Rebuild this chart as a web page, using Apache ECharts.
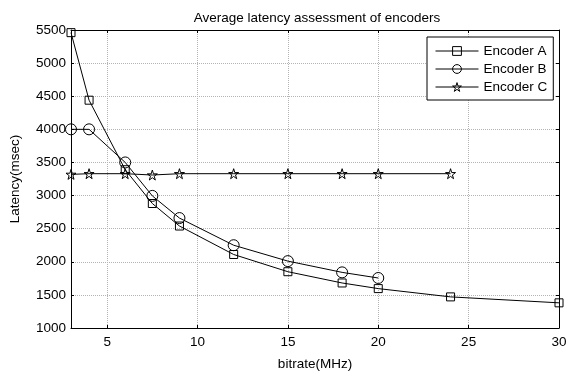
<!DOCTYPE html>
<html>
<head>
<meta charset="utf-8">
<script src="https://cdn.jsdelivr.net/npm/echarts@6/dist/echarts.min.js"></script>
<style>
  html, body { margin: 0; padding: 0; background: #fff; }
  #chart { width: 572px; height: 376px; }
</style>
</head>
<body>
<div id="chart"></div>
<script>
// bitrate (MHz) and latency (msec)
var bitrateA = [3, 4, 6, 7.5, 9, 12, 15, 18, 20, 24, 30];
var latencyA = [5460, 4440, 3390, 2880, 2540, 2110, 1850, 1680, 1595, 1470, 1380];
var bitrateB = [3, 4, 6, 7.5, 9, 12, 15, 18, 20];
var latencyB = [4000, 4000, 3500, 2995, 2660, 2250, 2010, 1840, 1755];
var bitrateC = [3, 4, 6, 7.5, 9, 12, 15, 18, 20, 24];
var latencyC = [3320, 3330, 3330, 3310, 3330, 3330, 3330, 3330, 3330, 3330];
var xTicks = [5, 10, 15, 20, 25, 30];
var names = ["Encoder A", "Encoder B", "Encoder C"];

var fontFamily = "Liberation Sans, Arial, sans-serif";
var starPath = "path://M50,0 L61,35 L98,35 L68,57 L79,91 L50,70 L21,91 L32,57 L2,35 L39,35 Z";

function pairs(xs, ys) {
    return xs.map(function (x, i) { return [x, ys[i]]; });
}

// hollow markers, the line shows through them like in the original plot
function makeSeries(name, data, symbol, size) {
    return {
        name: name,
        type: "line",
        data: data,
        symbol: symbol,
        symbolSize: size,
        showAllSymbol: true,
        itemStyle: { color: "rgba(255,255,255,0)", borderColor: "#000", borderWidth: 1 },
        lineStyle: { color: "#000", width: 1 },
        emphasis: { disabled: true }
    };
}

var chart = echarts.init(document.getElementById("chart"));
var axisText = { color: "#000", fontSize: 13.5, fontFamily: fontFamily };
var gridLine = { show: true, lineStyle: { color: "#b4b4b4", type: [1, 1], width: 1 } };

var option = {
    animation: false,
    backgroundColor: "#fff",
    title: {
        text: "Average latency assessment of encoders",
        left: 312, textAlign: "center",
        top: 6,
        textStyle: { color: "#000", fontSize: 13.5, fontWeight: "normal", fontFamily: fontFamily }
    },
    grid: { left: 67, right: 13, top: 30, bottom: 36 },
    legend: {
        orient: "vertical",
        left: 427, top: 37,
        padding: [7, 6, 6, 8],
        itemWidth: 43, itemHeight: 11, itemGap: 4,
        backgroundColor: "#fff",
        borderColor: "#000", borderWidth: 1, borderRadius: 0,
        lineStyle: { width: 1, color: "#000" },
        itemStyle: { color: "rgba(255,255,255,0)", borderColor: "#000", borderWidth: 1 },
        textStyle: { color: "#000", fontSize: 13.5, fontFamily: fontFamily, lineHeight: 14 },
        data: names
    },
    xAxis: [{
        type: "value", min: 3, max: 30,
        name: "bitrate(MHz)", nameLocation: "middle", nameGap: 29,
        nameTextStyle: axisText,
        axisLine: { lineStyle: { color: "#000", width: 1 } },
        axisTick: { inside: true, length: 3, customValues: xTicks, lineStyle: { color: "#000" } },
        axisLabel: Object.assign({ customValues: xTicks, margin: 7 }, axisText),
        splitLine: gridLine
    }, {
        type: "value", min: 3, max: 30, position: "top",
        axisLine: { lineStyle: { color: "#000", width: 1 } },
        axisTick: { inside: true, length: 3, customValues: xTicks, lineStyle: { color: "#000" } },
        axisLabel: { show: false },
        splitLine: { show: false }
    }],
    yAxis: [{
        type: "value", min: 1000, max: 5500, interval: 500,
        name: "Latency(msec)", nameLocation: "middle", nameGap: 49,
        nameTextStyle: axisText,
        axisLine: { show: true, lineStyle: { color: "#000", width: 1 } },
        axisTick: { show: true, inside: true, length: 3, lineStyle: { color: "#000" } },
        axisLabel: Object.assign({ margin: 5, formatter: function (v) { return String(v); } }, axisText),
        splitLine: gridLine
    }, {
        type: "value", min: 1000, max: 5500, interval: 500, position: "right",
        axisLine: { show: true, lineStyle: { color: "#000", width: 1 } },
        axisTick: { show: true, inside: true, length: 3, lineStyle: { color: "#000" } },
        axisLabel: { show: false },
        splitLine: { show: false }
    }],
    series: [
        makeSeries(names[0], pairs(bitrateA, latencyA), "rect", 8),
        makeSeries(names[1], pairs(bitrateB, latencyB), "circle", 11),
        makeSeries(names[2], pairs(bitrateC, latencyC), starPath, 10)
    ]
};

chart.setOption(option);
</script>
</body>
</html>
